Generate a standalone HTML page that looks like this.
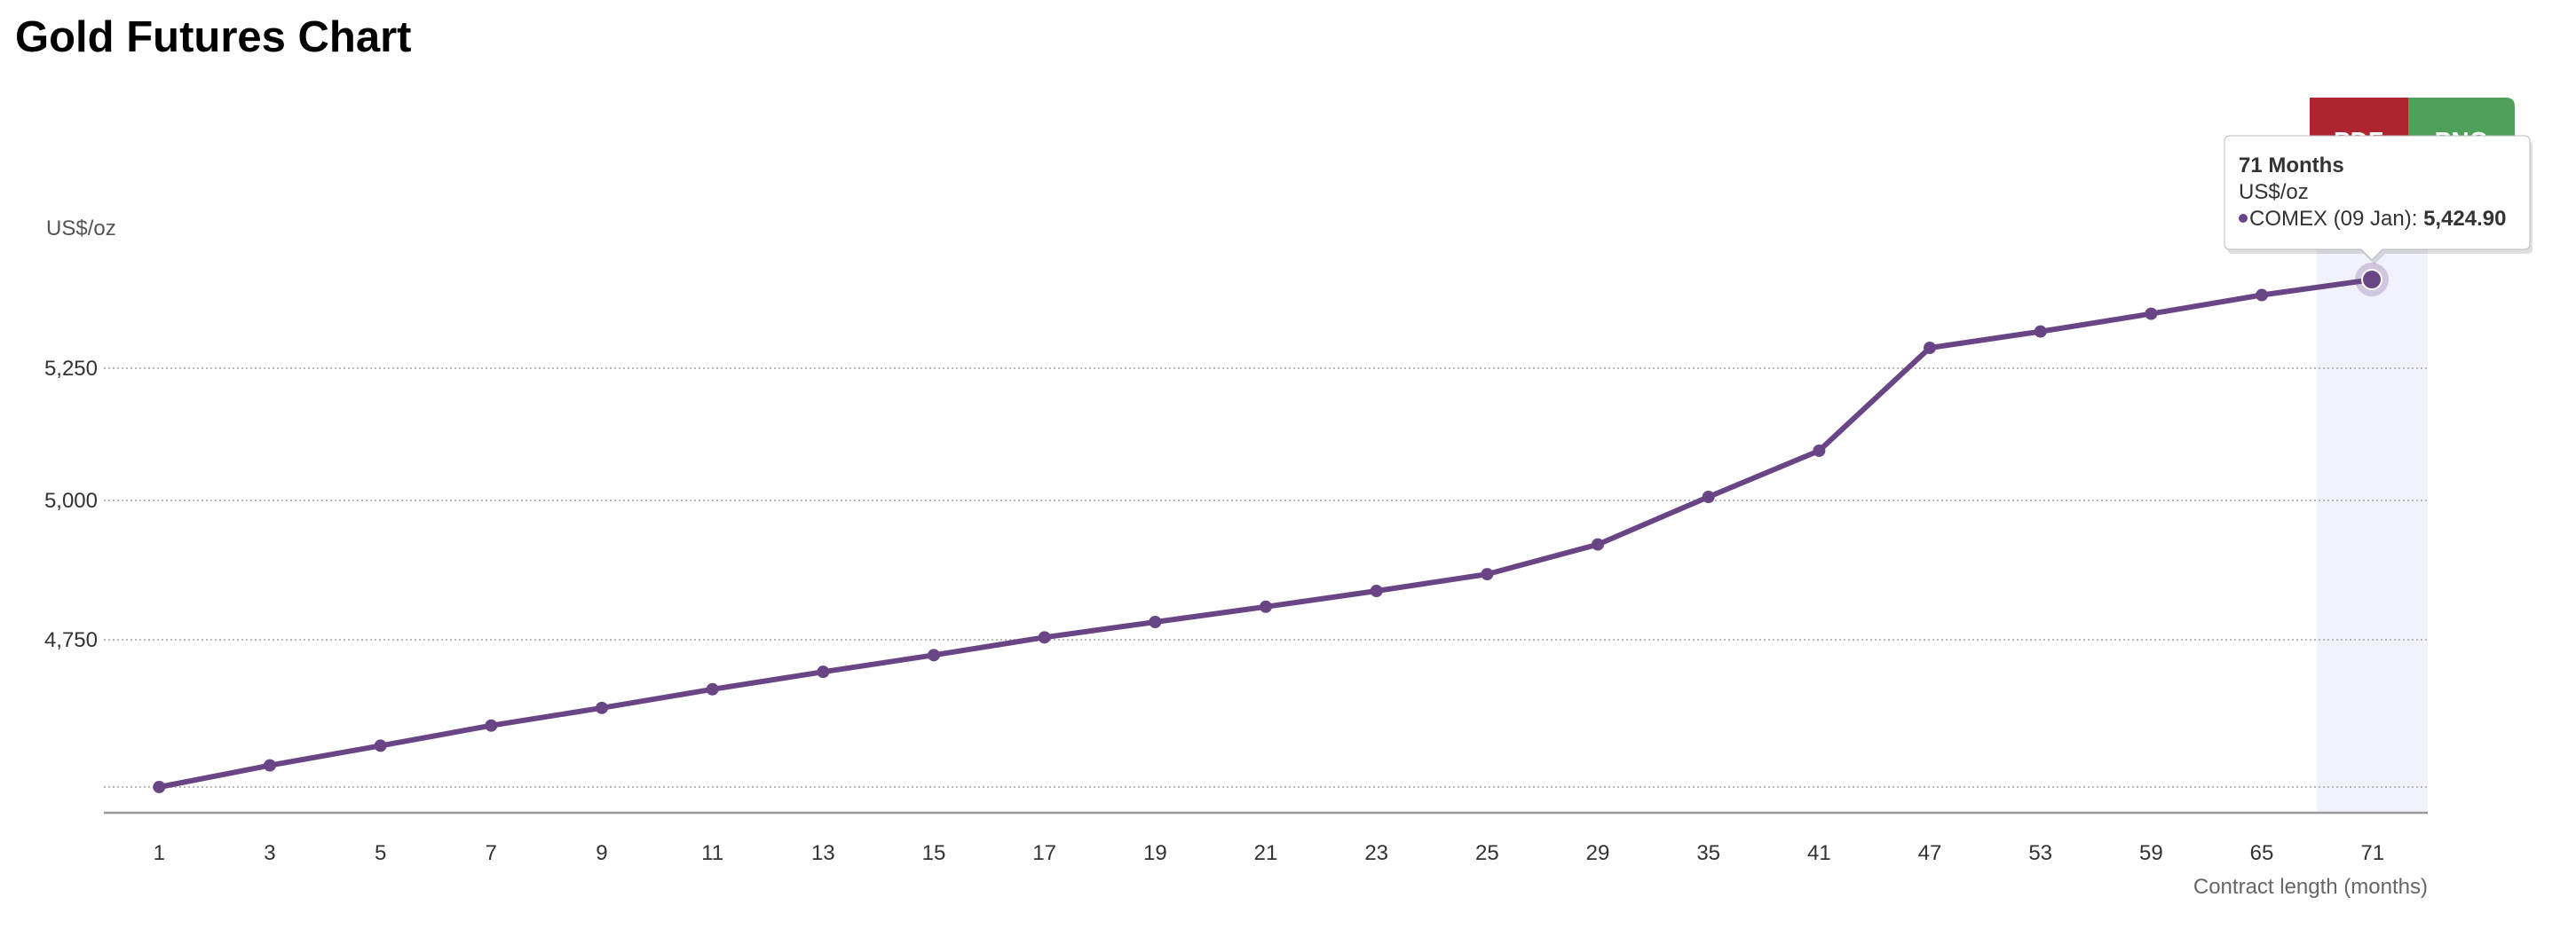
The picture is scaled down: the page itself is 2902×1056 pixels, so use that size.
<!DOCTYPE html>
<html><head><meta charset="utf-8"><style>
html,body{margin:0;padding:0;background:#fff;}
body{width:2902px;height:1056px;overflow:hidden;position:relative;}
</style></head><body>
<svg width="2902" height="1056" viewBox="0 0 2902 1056" xmlns="http://www.w3.org/2000/svg" style="position:absolute;left:0;top:0">
<text x="17" y="58" font-family="Liberation Sans, sans-serif" font-weight="bold" font-size="49" fill="#000">Gold Futures Chart</text>
<!-- export buttons -->
<path d="M2602 110 H2823 Q2833 110 2833 120 V200 H2602 Z" fill="#4fa05a"/>
<rect x="2602" y="110" width="111" height="90" fill="#ae2530"/>
<text x="2657" y="168" text-anchor="middle" font-family="Liberation Sans, sans-serif" font-weight="bold" font-size="28" fill="#fff">PDF</text>
<text x="2773" y="168" text-anchor="middle" font-family="Liberation Sans, sans-serif" font-weight="bold" font-size="28" fill="#fff">PNG</text>
<!-- highlight band -->
<rect x="2610" y="215" width="125" height="700" fill="#f2f2fc"/>
<!-- axis unit -->
<text x="52" y="265" font-family="Liberation Sans, sans-serif" font-size="24" fill="#555">US$/oz</text>
<!-- gridlines -->
<g stroke="#b8b8b8" stroke-width="2" stroke-dasharray="2,3">
<line x1="117" y1="415" x2="2735" y2="415"/>
<line x1="117" y1="564" x2="2735" y2="564"/>
<line x1="117" y1="721" x2="2735" y2="721"/>
<line x1="117" y1="887" x2="2735" y2="887"/>
</g>
<line x1="117" y1="916" x2="2735" y2="916" stroke="#999" stroke-width="2.5"/>
<g font-family="Liberation Sans, sans-serif" font-size="24" fill="#333" text-anchor="end">
<text x="110" y="423">5,250</text>
<text x="110" y="572">5,000</text>
<text x="110" y="729">4,750</text>
</g>
<g font-family="Liberation Sans, sans-serif" font-size="24" fill="#333" text-anchor="middle" id="xl"></g>
<text x="2735" y="1007" text-anchor="end" font-family="Liberation Sans, sans-serif" font-size="24" fill="#666">Contract length (months)</text>
<polyline id="ln" fill="none" stroke="#6a4586" stroke-width="6" stroke-linejoin="round"/>
<g id="mk" fill="#6a4586"></g>
<circle cx="2672" cy="315" r="19" fill="#6a4586" fill-opacity="0.25"/>
<circle cx="2672" cy="315" r="11" fill="#6a4586" stroke="#fff" stroke-width="2"/>
<!-- tooltip -->
<g>
<path d="M2512 155 H2844 Q2850 155 2850 161 V277 Q2850 283 2844 283 H2684 L2672 295 L2660 283 H2512 Q2506 283 2506 277 V161 Q2506 155 2512 155 Z" fill="#000" fill-opacity="0.12" transform="translate(3,3)"/>
<path d="M2512 153 H2844 Q2850 153 2850 159 V275 Q2850 281 2844 281 H2684 L2672 293 L2660 281 H2512 Q2506 281 2506 275 V159 Q2506 153 2512 153 Z" fill="#fff" stroke="#bbb" stroke-width="1"/>
<text x="2522" y="194" font-family="Liberation Sans, sans-serif" font-weight="bold" font-size="24" fill="#333">71 Months</text>
<text x="2522" y="224" font-family="Liberation Sans, sans-serif" font-size="24" fill="#333">US$/oz</text>
<circle cx="2527" cy="246" r="5" fill="#6a4586"/>
<text x="2534" y="254" font-family="Liberation Sans, sans-serif" font-size="24" fill="#333">COMEX (09 Jan): <tspan font-weight="bold">5,424.90</tspan></text>
</g>
</svg>
<script>
var labels=[1,3,5,7,9,11,13,15,17,19,21,23,25,29,35,41,47,53,59,65,71];
var vals=[4493,4529,4562,4596,4626,4658,4688,4717,4748,4775,4802,4830,4860,4920,5007,5093,5290,5322,5357,5394,5424.9];
for(var j=0;j<13;j++)vals[j]*=1.0013;
var pts=[],xl=document.getElementById('xl'),mk=document.getElementById('mk'),ns='http://www.w3.org/2000/svg';
for(var i=0;i<21;i++){
 var x=179.3+i*124.67,y=721+7035*(Math.log10(4750)-Math.log10(vals[i]));
 pts.push(x.toFixed(1)+','+y.toFixed(1));
 var t=document.createElementNS(ns,'text');t.setAttribute('x',x);t.setAttribute('y',969);t.textContent=labels[i];xl.appendChild(t);
 if(i<20){var c=document.createElementNS(ns,'circle');c.setAttribute('cx',x);c.setAttribute('cy',y);c.setAttribute('r',7);mk.appendChild(c);}
}
document.getElementById('ln').setAttribute('points',pts.join(' '));
</script>
</body></html>
